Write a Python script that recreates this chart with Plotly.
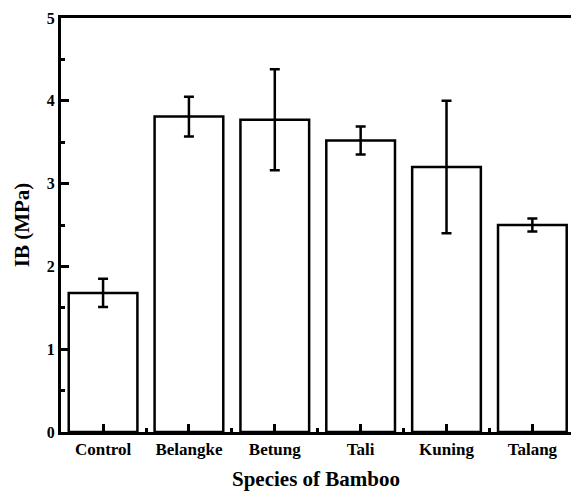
import plotly.graph_objects as go

species = ["Control", "Belangke", "Betung", "Tali", "Kuning", "Talang"]
ib_mean = [1.68, 3.81, 3.77, 3.52, 3.20, 2.50]
ib_err = [0.17, 0.24, 0.61, 0.17, 0.80, 0.08]
y_ticks = [0, 1, 2, 3, 4, 5]

xpos = list(range(len(species)))

fig = go.Figure()
fig.add_trace(go.Bar(
    x=xpos, y=ib_mean, width=0.8,
    marker=dict(color="white", line=dict(color="black", width=2.5)),
    error_y=dict(type="data", array=ib_err, visible=True, color="black",
                 thickness=2.5, width=5),
))

font_family = "Liberation Serif"
fig.update_layout(
    width=571, height=491,
    margin=dict(l=61, r=0, t=18, b=59),
    plot_bgcolor="white", paper_bgcolor="white",
    showlegend=False,
    font=dict(family=font_family, color="black"),
    xaxis=dict(
        automargin=False,
        range=[-0.49, 5.45],
        tickmode="array", tickvals=xpos,
        ticktext=["<b>%s</b>" % s for s in species],
        tickfont=dict(size=17, family=font_family, color="black"),
        ticks="inside", ticklen=8, tickwidth=2.5, tickcolor="black",
        minor=dict(tickmode="array", tickvals=[i + 0.5 for i in range(-1, 6)],
                   ticks="inside", ticklen=4, tickwidth=2.5, tickcolor="black"),
        showline=True, linecolor="black", linewidth=3, mirror=True,
        showgrid=False, zeroline=False,
        title=dict(text="<b>Species of Bamboo</b>", font=dict(size=21, family=font_family, color="black"),
                   standoff=19),
    ),
    yaxis=dict(
        automargin=False,
        range=[0, 5],
        tickmode="array", tickvals=y_ticks,
        ticktext=["<b>%d</b>" % v for v in y_ticks],
        tickfont=dict(size=16, family=font_family, color="black"),
        ticks="inside", ticklen=8, tickwidth=2.5, tickcolor="black",
        minor=dict(tickmode="array", tickvals=[0.5, 1.5, 2.5, 3.5, 4.5],
                   ticks="inside", ticklen=4, tickwidth=2.5, tickcolor="black"),
        showline=True, linecolor="black", linewidth=3, mirror=False,
        showgrid=False, zeroline=False,
        title=dict(text="<b>IB (MPa)</b>", font=dict(size=21, family=font_family, color="black"),
                   standoff=12),
    ),
)

fig.write_html("out.html", config={"displayModeBar": False},
               post_script="document.body.style.margin='0';document.body.style.overflow='hidden';")
